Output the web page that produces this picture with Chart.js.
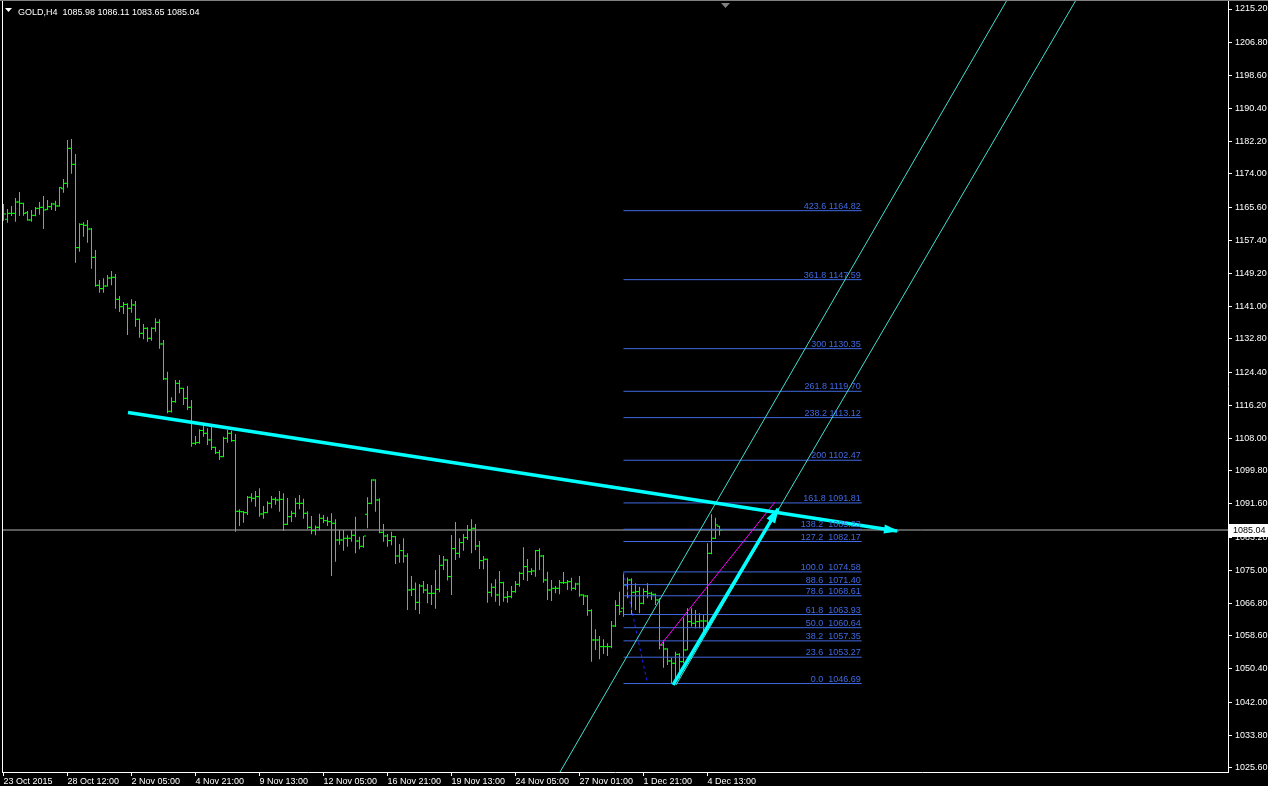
<!DOCTYPE html>
<html lang="en">
<head>
<meta charset="UTF-8">
<title>GOLD,H4</title>
<script src="https://cdn.jsdelivr.net/npm/chart.js"></script>
<style>
  html, body { margin: 0; padding: 0; background: #000; }
  canvas { display: block; }
</style>
</head>
<body>
<canvas id="chart" width="1268" height="786"></canvas>
<script>
// H4 bars (bar 0 = 23 Oct 2015)
const opens = [
  1164.50,1162.66,1164.15,1164.15,1166.98,1166.65,1164.32,1162.49,1163.65,1165.40,
  1165.65,1165.15,1165.82,1166.49,1165.99,1170.30,1171.65,1180.39,1176.39,1155.58,
  1161.40,1161.16,1160.24,1153.16,1146.17,1145.34,1146.00,1148.00,1148.17,1142.67,
  1140.84,1141.40,1140.42,1141.26,1137.68,1134.18,1135.43,1132.93,1135.43,1136.93,
  1131.52,1122.80,1114.70,1117.11,1121.69,1120.44,1117.94,1115.70,1106.70,1106.87,
  1109.90,1109.20,1107.54,1105.70,1104.37,1103.37,1107.95,1109.20,1107.37,1089.72,
  1089.60,1089.38,1093.21,1092.96,1093.38,1089.05,1089.38,1091.71,1092.71,1092.55,
  1092.71,1086.47,1088.38,1089.22,1091.71,1091.71,1089.22,1085.72,1084.89,1085.72,
  1087.97,1087.38,1087.13,1086.72,1082.55,1082.55,1082.97,1082.97,1083.72,1082.30,
  1080.97,1088.97,1091.71,1097.54,1092.55,1084.47,1083.55,1082.39,1083.39,1078.56,
  1079.89,1078.56,1070.06,1070.23,1066.98,1071.06,1070.06,1069.23,1069.23,1070.23,
  1076.23,1077.56,1073.40,1080.39,1079.22,1081.89,1083.14,1085.05,1085.47,1081.06,
  1077.39,1077.73,1069.48,1070.73,1068.82,1071.89,1068.23,1068.40,1069.64,1071.48,
  1074.22,1075.89,1074.64,1074.81,1079.89,1078.55,1072.56,1070.06,1070.48,1070.48,
  1071.89,1071.89,1072.14,1070.48,1071.56,1068.81,1068.56,1064.90,1057.57,1057.57,
  1055.91,1055.91,1055.91,1061.07,1066.20,1065.50,1071.31,1072.56,1069.48,1069.65,
  1066.73,1069.65,1069.23,1068.98,1067.57,1056.33,1055.33,1052.33,1051.75,1053.99,
  1052.16,1055.08,1062.15,1061.74,1062.15,1062.32,1062.32,1079.22,1082.97,1085.98
];
const highs = [
  1166.49,1165.24,1165.99,1167.98,1169.48,1166.82,1164.74,1164.99,1165.74,1166.98,
  1168.48,1167.48,1166.82,1167.32,1170.73,1172.73,1182.47,1182.72,1178.97,1161.66,
  1161.91,1162.49,1160.49,1154.99,1147.50,1147.92,1148.75,1149.75,1149.00,1143.50,
  1142.01,1141.67,1142.67,1142.26,1137.90,1136.51,1135.68,1135.68,1137.93,1137.68,
  1132.51,1124.60,1118.19,1122.52,1122.52,1120.61,1121.02,1117.53,1108.53,1110.20,
  1111.28,1110.45,1111.03,1105.87,1105.04,1108.37,1110.03,1109.87,1109.03,1090.22,
  1089.80,1093.55,1094.21,1094.79,1095.46,1091.05,1092.21,1093.55,1093.21,1094.79,
  1094.21,1093.05,1089.88,1093.05,1093.80,1092.88,1089.72,1088.55,1086.14,1089.13,
  1088.80,1088.38,1089.22,1087.72,1085.05,1085.05,1083.72,1085.05,1088.38,1083.39,
  1083.55,1093.21,1097.71,1097.71,1092.96,1086.55,1084.05,1084.64,1083.55,1081.56,
  1082.97,1079.22,1073.56,1071.90,1071.56,1072.31,1071.56,1071.31,1075.06,1078.81,
  1078.56,1077.73,1083.80,1087.05,1082.97,1084.05,1086.30,1087.72,1086.55,1082.30,
  1078.56,1077.90,1071.73,1072.73,1074.81,1072.14,1069.81,1071.06,1072.31,1074.64,
  1080.72,1077.80,1075.47,1080.05,1080.47,1078.80,1074.64,1072.56,1071.06,1072.56,
  1074.56,1072.56,1073.14,1071.89,1073.56,1069.00,1068.81,1065.23,1060.24,1058.57,
  1057.74,1056.74,1062.32,1067.50,1069.65,1074.58,1073.15,1072.98,1071.73,1070.90,
  1070.48,1071.73,1069.65,1069.20,1067.98,1057.57,1055.49,1053.16,1054.66,1054.24,
  1063.15,1065.48,1065.48,1065.07,1064.24,1063.82,1081.72,1088.97,1088.13,1086.11
];
const lows = [
  1162.32,1161.82,1163.49,1162.07,1163.49,1163.57,1162.32,1162.07,1163.40,1163.82,
  1160.24,1164.90,1164.99,1164.74,1165.82,1169.32,1170.57,1174.06,1151.83,1154.58,
  1158.33,1156.83,1150.33,1145.84,1144.34,1144.34,1145.84,1146.17,1140.30,1139.50,
  1139.00,1133.76,1139.34,1135.85,1133.10,1132.68,1132.10,1132.35,1134.60,1130.35,
  1122.52,1114.20,1114.40,1116.86,1119.19,1116.28,1115.03,1105.87,1106.29,1106.60,
  1108.37,1106.29,1105.04,1104.04,1102.54,1103.21,1106.87,1107.12,1084.64,1086.05,
  1086.88,1088.80,1092.13,1090.88,1088.38,1087.88,1089.22,1090.46,1091.38,1089.63,
  1084.80,1086.30,1087.05,1088.22,1090.21,1087.88,1085.22,1083.97,1083.72,1084.89,
  1086.72,1086.05,1073.56,1077.14,1081.39,1079.89,1080.89,1082.14,1079.22,1080.22,
  1080.60,1085.47,1091.50,1089.63,1084.22,1082.14,1080.89,1081.22,1076.56,1076.89,
  1076.89,1065.07,1068.57,1065.07,1064.07,1069.23,1066.73,1066.32,1065.40,1069.48,
  1075.06,1072.40,1068.82,1077.56,1078.14,1079.89,1082.55,1079.22,1080.06,1075.31,
  1075.23,1066.90,1068.40,1067.15,1066.15,1067.15,1066.90,1067.98,1069.40,1070.89,
  1072.56,1072.31,1073.81,1073.39,1075.06,1071.89,1067.56,1067.31,1069.23,1068.98,
  1071.56,1070.06,1069.89,1070.06,1068.40,1066.31,1063.65,1052.16,1055.07,1052.74,
  1054.07,1053.57,1055.49,1060.80,1063.82,1063.40,1067.98,1063.99,1065.07,1064.24,
  1066.50,1067.98,1067.57,1066.32,1055.24,1050.66,1051.33,1046.69,1047.58,1048.00,
  1051.75,1055.00,1060.91,1060.49,1060.49,1059.66,1060.49,1079.00,1082.80,1083.65
];
const closes = [
  1163.99,1164.15,1164.15,1166.98,1166.65,1164.15,1162.49,1163.65,1165.40,1165.65,
  1164.99,1165.82,1166.49,1165.99,1170.57,1171.65,1180.39,1176.39,1155.58,1161.40,
  1161.16,1160.24,1153.16,1146.17,1145.34,1146.00,1148.00,1148.17,1142.67,1140.84,
  1141.40,1140.42,1141.26,1137.68,1134.18,1135.43,1132.93,1135.43,1136.93,1131.52,
  1122.80,1114.70,1117.11,1121.69,1120.44,1117.94,1115.70,1106.70,1106.87,1109.90,
  1109.20,1107.54,1105.70,1104.37,1103.37,1107.95,1109.20,1107.37,1089.72,1089.63,
  1089.38,1093.21,1092.96,1093.38,1089.05,1089.38,1091.71,1092.71,1092.55,1092.71,
  1086.47,1088.38,1089.22,1091.71,1091.71,1089.22,1085.72,1084.89,1085.72,1087.97,
  1087.38,1087.13,1086.72,1082.55,1082.55,1082.97,1082.97,1083.72,1082.30,1080.97,
  1083.55,1091.71,1097.54,1092.55,1084.47,1083.55,1082.39,1083.39,1078.56,1079.89,
  1078.56,1070.06,1070.23,1066.98,1071.06,1070.06,1069.23,1069.23,1070.23,1076.23,
  1077.56,1073.40,1080.39,1079.22,1081.89,1083.14,1085.05,1085.47,1081.06,1077.39,
  1077.73,1069.48,1070.73,1068.82,1071.89,1068.23,1068.40,1069.64,1071.48,1074.22,
  1075.89,1074.64,1074.81,1079.89,1078.55,1072.56,1070.06,1070.48,1070.48,1071.89,
  1071.89,1072.14,1070.48,1071.56,1068.81,1068.56,1064.90,1057.57,1057.57,1055.91,
  1055.91,1055.91,1061.07,1066.20,1064.65,1071.31,1072.56,1069.48,1069.65,1066.73,
  1069.65,1069.23,1068.98,1067.57,1056.33,1055.33,1052.33,1051.75,1053.99,1052.16,
  1055.08,1062.15,1061.74,1062.15,1062.32,1062.32,1079.22,1082.97,1086.30,1085.04
];

// time axis: a label every 16 bars
const dateTickBars = [0, 16, 32, 48, 64, 80, 96, 112, 128, 144, 160, 176];
const dateLabels = ['23 Oct 2015', '28 Oct 12:00', '2 Nov 05:00', '4 Nov 21:00', '9 Nov 13:00',
  '12 Nov 05:00', '16 Nov 21:00', '19 Nov 13:00', '24 Nov 05:00', '27 Nov 01:00',
  '1 Dec 21:00', '4 Dec 13:00'];

// price axis
const priceTicks = [1215.20, 1206.80, 1198.60, 1190.40, 1182.20, 1174.00, 1165.60, 1157.40,
  1149.20, 1141.00, 1132.80, 1124.40, 1116.20, 1108.00, 1099.80, 1091.60, 1083.20, 1075.00,
  1066.80, 1058.60, 1050.40, 1042.00, 1033.80, 1025.60];
const priceMin = 1024.59;
const priceMax = 1217.45;
const bidPrice = 1085.04;
const header = 'GOLD,H4  1085.98 1086.11 1083.65 1085.04';

// fibonacci expansion: anchors (bar, price) and its levels
const fibAnchors = [[155, 1074.58], [161, 1046.69]];
const fibSpan = [155, 214.55];
const fibPrices = [1046.69, 1053.27, 1057.35, 1060.64, 1063.93, 1068.61, 1071.40, 1074.58,
  1082.17, 1085.23, 1091.81, 1102.47, 1113.12, 1119.70, 1130.35, 1147.59, 1164.82];
const fibTexts = ['0.0  1046.69', '23.6  1053.27', '38.2  1057.35', '50.0  1060.64',
  '61.8  1063.93', '78.6  1068.61', '88.6  1071.40', '100.0  1074.58', '127.2  1082.17',
  '138.2  1085.23', '161.8 1091.81', '200 1102.47', '238.2 1113.12', '261.8 1119.70',
  '300 1130.35', '361.8 1147.59', '423.6 1164.82'];

// drawn objects (bar index, price)
const trendLine = [[31.13, 1114.40], [223.38, 1084.80]];
const upArrow = [[167.38, 1046.33], [193.63, 1090.30]];
const channelA = [[139.13, 1024.59], [250.88, 1217.45]];
const channelB = [[168.13, 1046.33], [268.13, 1217.45]];
const midLine = [[163.88, 1055.82], [192.88, 1092.04]];

const barColor = '#00ff00';
const fibColor = '#4169e1';
const axisFont = { family: 'Liberation Sans', size: 9 };

const pts = arr => arr.map(p => ({ x: p[0], y: p[1] }));

function segment(points, color, width, extra) {
  return Object.assign({
    type: 'line', data: pts(points), borderColor: color, borderWidth: width,
    pointRadius: 0, pointHoverRadius: 0, fill: false, order: 1
  }, extra || {});
}

// no extra label padding around the plot, like the terminal
function noPadding(s) {
  s.paddingTop = 0; s.paddingBottom = 0; s.paddingLeft = 0; s.paddingRight = 0;
}

const datasets = [
  {
    type: 'bar',
    data: highs.map((h, i) => ({ x: i, y: [lows[i], h] })),
    backgroundColor: barColor, borderWidth: 0, barThickness: 1, inflateAmount: 0, order: 5
  },
  {
    type: 'scatter',
    data: opens.map((o, i) => ({ x: i - 0.375, y: o })),
    pointStyle: 'line', radius: 1, hoverRadius: 1, borderColor: barColor, borderWidth: 1, order: 5
  },
  {
    type: 'scatter',
    data: closes.map((c, i) => ({ x: i + 0.375, y: c })),
    pointStyle: 'line', radius: 1, hoverRadius: 1, borderColor: barColor, borderWidth: 1, order: 5
  },
  segment([[-0.375, bidPrice], [306.125, bidPrice]], '#b4b4b4', 1, { order: 6 })
];
fibPrices.forEach(p => datasets.push(segment([[fibSpan[0], p], [fibSpan[1], p]], fibColor, 1, { order: 3 })));
datasets.push(segment(fibAnchors, '#1e1eff', 1, { borderDash: [3, 3], order: 3 }));
datasets.push(segment(channelA, '#40e0d0', 1));
datasets.push(segment(channelB, '#40e0d0', 1));
datasets.push(segment(midLine, '#ff00ff', 1));
datasets.push(segment(trendLine, '#00ffff', 3.5, { arrow: { len: 13, width: 9 }, order: 0 }));
datasets.push(segment(upArrow, '#00ffff', 3.5, { arrow: { len: 14, width: 10 }, order: 0 }));

const background = {
  id: 'background',
  beforeDraw(chart) {
    const ctx = chart.ctx;
    ctx.save();
    ctx.fillStyle = '#000';
    ctx.fillRect(0, 0, chart.width, chart.height);
    ctx.restore();
  }
};

const overlays = {
  id: 'overlays',
  afterDatasetsDraw(chart) {
    const ctx = chart.ctx;
    const x = chart.scales.x, y = chart.scales.y;
    ctx.save();
    // arrow heads
    chart.data.datasets.forEach((ds, i) => {
      if (!ds.arrow) return;
      const el = chart.getDatasetMeta(i).data;
      const a = el[el.length - 2], b = el[el.length - 1];
      const ang = Math.atan2(b.y - a.y, b.x - a.x);
      ctx.save();
      ctx.translate(b.x, b.y);
      ctx.rotate(ang);
      ctx.beginPath();
      ctx.moveTo(2, 0);
      ctx.lineTo(-ds.arrow.len, -ds.arrow.width / 2);
      ctx.lineTo(-ds.arrow.len, ds.arrow.width / 2);
      ctx.closePath();
      ctx.fillStyle = ds.borderColor;
      ctx.fill();
      ctx.restore();
    });
    // fib level texts
    ctx.font = '9px "Liberation Sans"';
    ctx.fillStyle = fibColor;
    ctx.textAlign = 'right';
    ctx.textBaseline = 'alphabetic';
    const right = x.getPixelForValue(fibSpan[1]) - 1;
    fibPrices.forEach((p, i) => {
      ctx.fillText(fibTexts[i], right, Math.round(y.getPixelForValue(p)) - 2);
    });
    ctx.restore();
  },
  afterDraw(chart) {
    const ctx = chart.ctx;
    const area = chart.chartArea;
    const y = chart.scales.y;
    ctx.save();
    // frame
    ctx.strokeStyle = '#ffffff';
    ctx.lineWidth = 1;
    ctx.beginPath();
    ctx.moveTo(2.5, 0);
    ctx.lineTo(2.5, area.bottom);
    ctx.stroke();
    ctx.strokeStyle = '#808080';
    ctx.beginPath();
    ctx.moveTo(0, 0.5);
    ctx.lineTo(chart.width, 0.5);
    ctx.stroke();
    // shift marker
    ctx.fillStyle = '#808080';
    ctx.beginPath();
    ctx.moveTo(721, 3);
    ctx.lineTo(730, 3);
    ctx.lineTo(725.5, 8);
    ctx.closePath();
    ctx.fill();
    // header
    ctx.fillStyle = '#ffffff';
    ctx.beginPath();
    ctx.moveTo(5, 8);
    ctx.lineTo(12, 8);
    ctx.lineTo(8.5, 12);
    ctx.closePath();
    ctx.fill();
    ctx.font = '9px "Liberation Sans"';
    ctx.textBaseline = 'alphabetic';
    ctx.fillText(header, 18, 15);
    // bid price tag
    const py = Math.round(y.getPixelForValue(bidPrice));
    ctx.fillStyle = '#ffffff';
    ctx.fillRect(area.right + 1, py - 6, chart.width - area.right - 1, 13);
    ctx.fillStyle = '#000000';
    ctx.textBaseline = 'middle';
    ctx.fillText(bidPrice.toFixed(2), area.right + 5, py + 0.5);
    ctx.restore();
  }
};

new Chart(document.getElementById('chart'), {
  type: 'bar',
  data: { datasets: datasets },
  plugins: [background, overlays],
  options: {
    responsive: false,
    animation: false,
    events: [],
    layout: { autoPadding: false, padding: { left: 2, top: 0, right: 0, bottom: 0 } },
    plugins: { legend: { display: false }, tooltip: { enabled: false } },
    scales: {
      x: {
        type: 'linear', min: -0.375, max: 306.125, offset: false,
        afterBuildTicks: s => { s.ticks = dateTickBars.map(v => ({ value: v })); },
        afterFit: s => { s.height = 14; noPadding(s); },
        ticks: {
          autoSkip: false, maxRotation: 0, align: 'start', padding: 0,
          color: '#ffffff', font: axisFont,
          callback: v => dateLabels[dateTickBars.indexOf(v)]
        },
        grid: { drawOnChartArea: false, offset: false, color: '#ffffff', tickLength: 4 },
        border: { color: '#ffffff' }
      },
      y: {
        type: 'linear', position: 'right', min: priceMin, max: priceMax,
        afterBuildTicks: s => { s.ticks = priceTicks.map(v => ({ value: v })); },
        afterFit: s => { s.width = 40; noPadding(s); },
        ticks: {
          autoSkip: false, padding: 3, color: '#ffffff', font: axisFont,
          callback: v => v.toFixed(2)
        },
        grid: { drawOnChartArea: false, color: '#ffffff', tickLength: 4 },
        border: { color: '#ffffff' }
      }
    }
  }
});
</script>
</body>
</html>
